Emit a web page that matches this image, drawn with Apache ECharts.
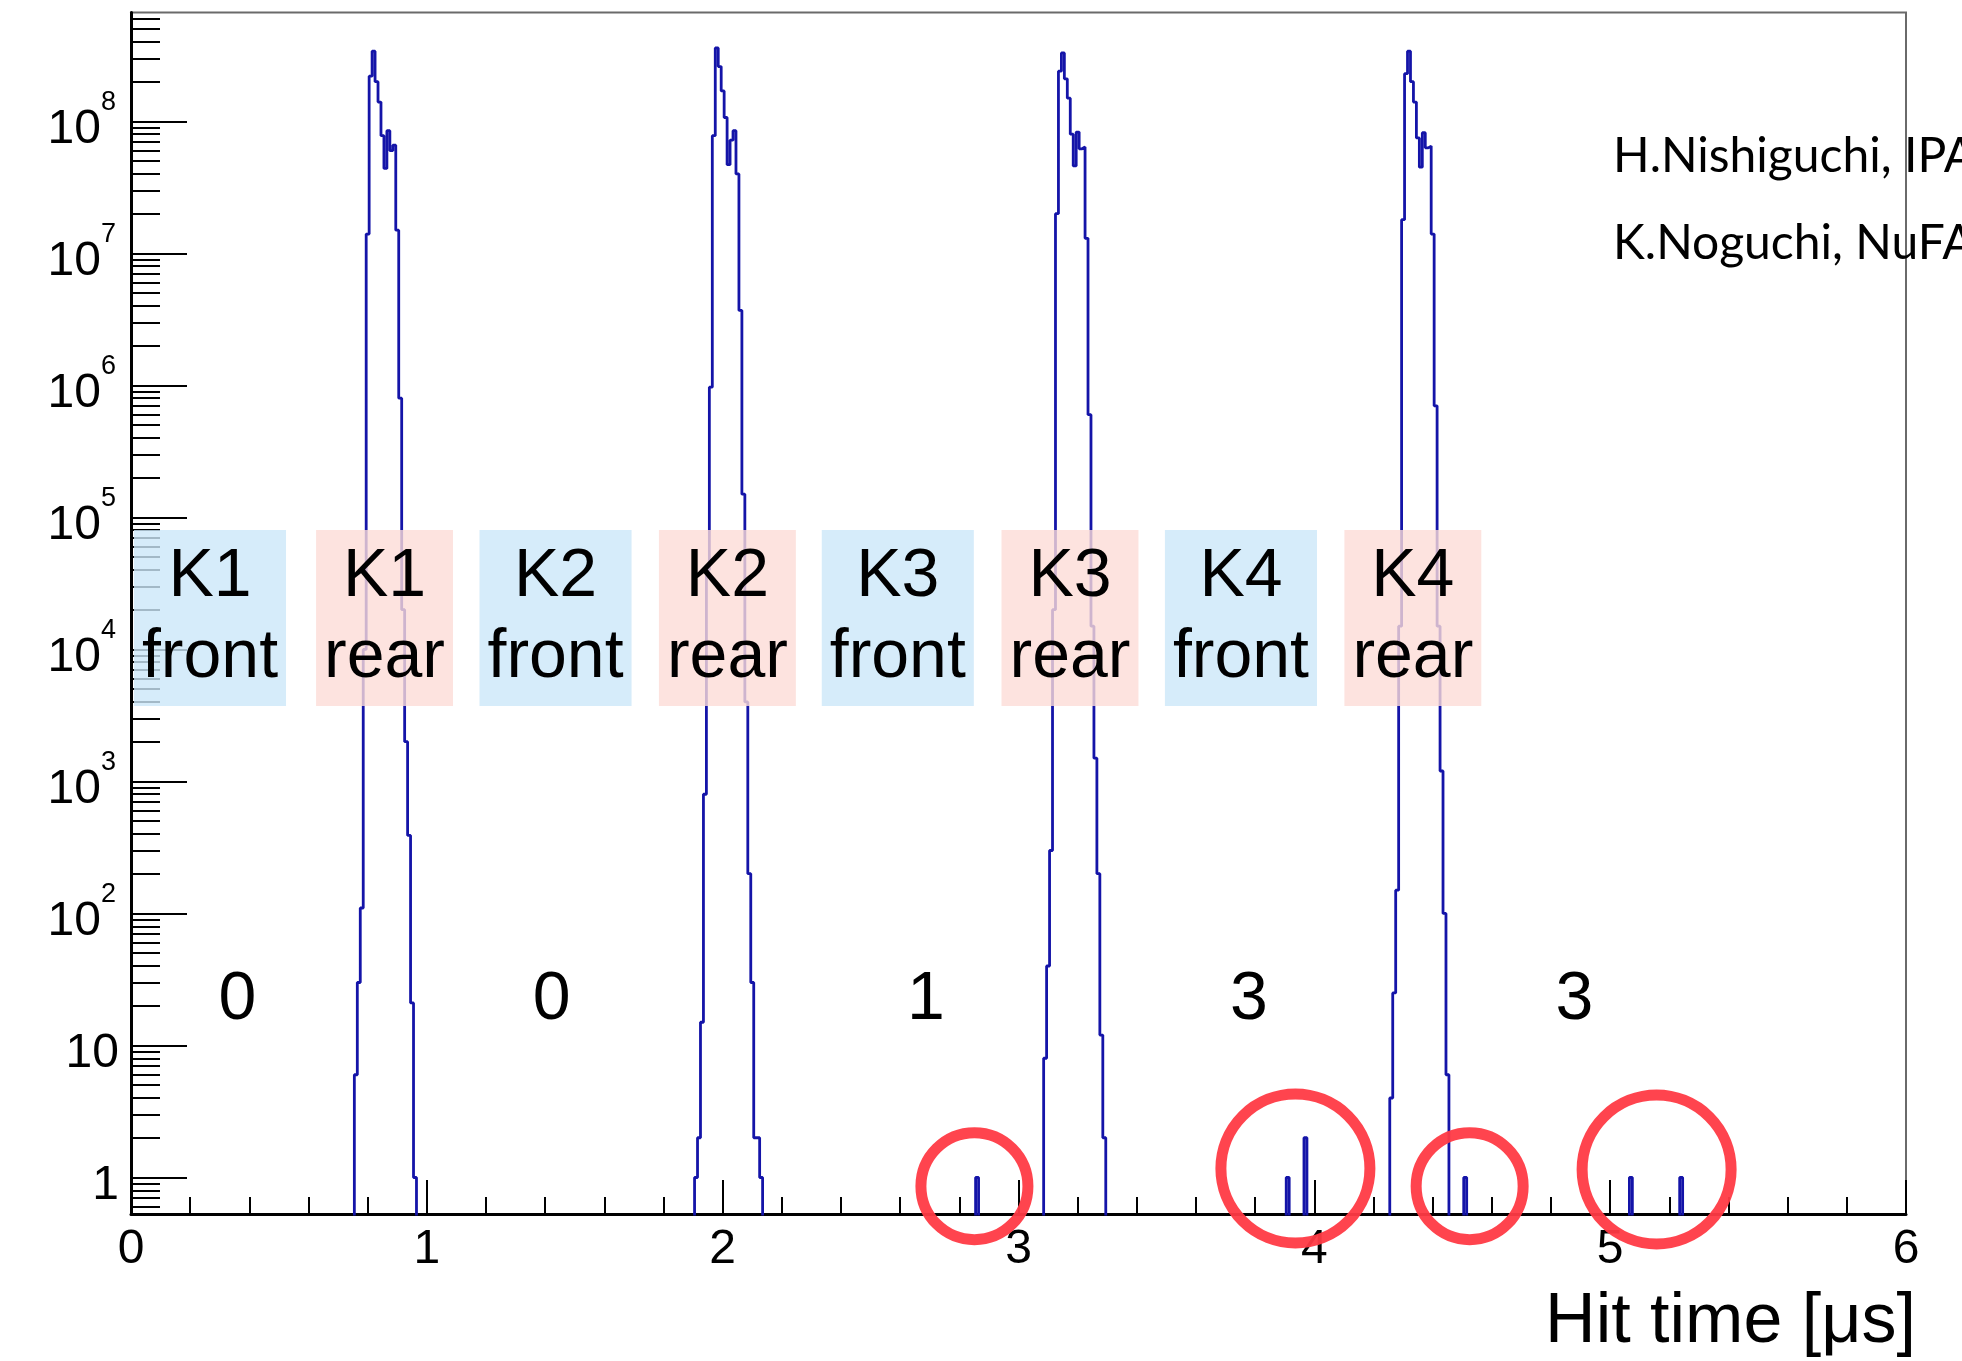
<!DOCTYPE html>
<html><head><meta charset="utf-8">
<script src="https://cdn.jsdelivr.net/npm/echarts@6/dist/echarts.min.js"></script>
<style>html,body{margin:0;padding:0;background:#fff}#c{width:1962px;height:1361px}</style>
</head><body><div id="c"></div>
<script>
// ---------------- data ----------------
const BIN_WIDTH = 0.01;            // 10 ns bins [us]
const FIRST_EDGE = 0.005;          // low edge of first bin [us]
const NBINS = 600;
// low edge of the first non-empty bin of each bunch, and counts per bin
const bunchNames = ['K1', 'K2', 'K3', 'K4'];
const bunchStart = [0.755, 1.905, 3.085, 4.255];
const k1Counts = [6, 30, 110, 1.0e4, 1.4e7, 2.2e8, 3.4e8, 2.0e8, 1.4e8, 7.8e7, 4.4e7, 8.5e7, 6.0e7, 6.6e7, 1.5e7, 8e5, 2e4, 2000, 390, 21, 1];
const k2Counts = [1, 2, 15, 800, 4e4, 9.7e5, 7.8e7, 3.6e8, 2.6e8, 1.7e8, 1.07e8, 4.7e7, 7.2e7, 8.5e7, 4.0e7, 3.7e6, 1.5e5, 4000, 200, 30, 2, 2, 1];
const k3Counts = [8, 40, 300, 2e4, 2.0e7, 2.4e8, 3.3e8, 2.1e8, 1.5e8, 8.0e7, 4.6e7, 8.3e7, 6.2e7, 6.4e7, 1.3e7, 6e5, 1.5e4, 1500, 200, 12, 2];
const k4Counts = [4, 25, 150, 1.5e4, 1.8e7, 2.3e8, 3.4e8, 2.0e8, 1.4e8, 7.5e7, 4.5e7, 8.2e7, 6.3e7, 6.5e7, 1.4e7, 7e5, 1.5e4, 1200, 100, 6];
const bunchCounts = [k1Counts, k2Counts, k3Counts, k4Counts];
// isolated hits between bunches (bin low edge, counts)
const strayHitTimes = [2.855, 3.905, 3.965, 4.505, 5.065, 5.235];
const strayHitCounts = [1, 1, 2, 1, 1, 1];

// axis ticks
const xTickLabels = ['0', '1', '2', '3', '4', '5', '6'];
const yMajorValues = [1, 10, 1e2, 1e3, 1e4, 1e5, 1e6, 1e7, 1e8];
const yMin = 0.529, yMax = 6.68e8;

// annotations
const sideLabels = ['K1\nfront', 'K1\nrear', 'K2\nfront', 'K2\nrear', 'K3\nfront', 'K3\nrear', 'K4\nfront', 'K4\nrear'];
const sideLabelTimes = [0.267, 0.857, 1.435, 2.016, 2.592, 3.174, 3.752, 4.333];
const sideLabelLevel = 1.73e4;
const gapCountLabels = ['0', '0', '1', '3', '3'];
const gapCountTimes = [0.360, 1.422, 2.687, 3.779, 4.879];
const gapCountLevel = 22;
const circleTimes = [2.851, 3.936, 4.525, 5.157];
const circleLevels = [0.86, 1.17, 0.86, 1.15];
const authorLines = ['H.Nishiguchi, IPAC', 'K.Noguchi, NuFACT'];
const xTitle = 'Hit time [\u03bcs]';

// ---------------- build histogram outline ----------------
const FLOOR = 0.05;
const counts = new Array(NBINS).fill(0);
function addBins(start, arr) {
  const i0 = Math.round((start - FIRST_EDGE) / BIN_WIDTH);
  arr.forEach((c, k) => { counts[i0 + k] += c; });
}
bunchStart.forEach((s, b) => addBins(s, bunchCounts[b]));
strayHitTimes.forEach((t, k) => addBins(t, [strayHitCounts[k]]));
const histPoints = [];
for (let i = 0; i < NBINS; i++) {
  histPoints.push([+(FIRST_EDGE + i * BIN_WIDTH).toFixed(4), counts[i] > 0 ? counts[i] : FLOOR]);
}
histPoints.push([+(FIRST_EDGE + NBINS * BIN_WIDTH).toFixed(4), FLOOR]);

const yMinorValues = [];
for (let e = -1; e <= 8; e++) {
  for (let m = 2; m <= 9; m++) {
    const v = m * Math.pow(10, e);
    if (v > yMin && v < yMax) yMinorValues.push(+v.toPrecision(3));
  }
}

const FONT = '"Liberation Sans", Arial, Helvetica, sans-serif';
const chart = echarts.init(document.getElementById('c'), null, { renderer: 'canvas' });
const option = {
  animation: false,
  backgroundColor: '#fff',
  grid: { left: 131, right: 56, top: 12.5, bottom: 147, show: true, borderColor: '#6a6a6a', borderWidth: 2, backgroundColor: 'transparent', containLabel: false },
  xAxis: {
    type: 'value', min: 0, max: 6, interval: 1,
    axisLine: { show: true, onZero: false, lineStyle: { color: '#000', width: 3 } },
    axisTick: { show: true, inside: true, length: 34, lineStyle: { color: '#000', width: 2 } },
    minorTick: { show: true, splitNumber: 5, length: 17, lineStyle: { color: '#000', width: 2 } },
    axisLabel: { fontSize: 48, color: '#000', fontFamily: FONT, margin: 12, formatter: v => xTickLabels[Math.round(v)] },
    splitLine: { show: false }, minorSplitLine: { show: false },
    name: xTitle, nameLocation: 'end', nameGap: 10,
    nameTextStyle: { fontSize: 70, color: '#000', fontFamily: FONT, align: 'right', verticalAlign: 'top', padding: [74, 0, 0, 0] }
  },
  yAxis: [{
    type: 'log', logBase: 10, min: yMin, max: yMax, position: 'left',
    axisLine: { show: true, onZero: false, lineStyle: { color: '#000', width: 3 } },
    axisTick: { show: true, inside: true, length: 56, customValues: yMajorValues, lineStyle: { color: '#000', width: 2 } },
    axisLabel: {
      customValues: yMajorValues, margin: 12, color: '#000',
      formatter: function (v) {
        const e = Math.round(Math.log10(v));
        if (e === 0) return '{b|1}';
        if (e === 1) return '{b|10}';
        return '{b|10}{e|' + e + '}{s| }';
      },
      rich: {
        b: { fontSize: 48, lineHeight: 64, verticalAlign: 'bottom', fontFamily: FONT, color: '#000' },
        e: { fontSize: 27, lineHeight: 27, verticalAlign: 'top', fontFamily: FONT, color: '#000' },
        s: { fontSize: 6, width: 3 }
      }
    },
    splitLine: { show: false }
  }, {
    type: 'log', logBase: 10, min: yMin, max: yMax, position: 'left',
    axisLine: { show: false },
    axisTick: { show: true, inside: true, length: 29, customValues: yMinorValues, lineStyle: { color: '#000', width: 2 } },
    axisLabel: { show: false },
    splitLine: { show: false }
  }],
  series: [{
    name: 'hits', type: 'line', data: histPoints, step: 'end', showSymbol: false, symbol: 'none',
    lineStyle: { color: '#1414a8', width: 2.8 }, clip: true, z: 3, silent: true
  }, {
    name: 'bunch sides', type: 'scatter', symbolSize: 1, clip: false, z: 5, silent: true,
    itemStyle: { color: 'rgba(0,0,0,0)', opacity: 1 },
    data: sideLabels.map((t, i) => ({
      value: [sideLabelTimes[i], sideLabelLevel],
      label: { backgroundColor: i % 2 === 0 ? 'rgba(204,231,249,0.8)' : 'rgba(252,220,215,0.8)' }
    })),
    label: { show: true, position: 'inside', formatter: p => sideLabels[p.dataIndex], fontSize: 68, lineHeight: 81, color: '#000', opacity: 1, fontFamily: FONT, padding: [7, 8, 7, 8], align: 'center' }
  }, {
    name: 'gap counts', type: 'scatter', symbolSize: 1, clip: false, z: 5, silent: true,
    itemStyle: { color: 'rgba(0,0,0,0)', opacity: 1 },
    data: gapCountTimes.map((t, i) => [t, gapCountLevel]),
    label: { show: true, position: 'inside', formatter: p => gapCountLabels[p.dataIndex], fontSize: 68, color: '#000', opacity: 1, fontFamily: FONT }
  }, {
    name: 'circles', type: 'scatter', clip: false, z: 6, silent: true, symbol: 'circle',
    symbolSize: (v, p) => (p.dataIndex % 2 === 0 ? 107 : 149),
    itemStyle: { color: 'rgba(0,0,0,0)', borderColor: '#ff3a44', borderWidth: 11, opacity: 0.95 },
    data: circleTimes.map((t, i) => [t, circleLevels[i]])
  }],
  graphic: [
    { type: 'text', left: 1613, top: 133, z: 1, style: { text: authorLines[0], font: '48px Lato, "Open Sans", sans-serif', fill: '#000' } },
    { type: 'text', left: 1613, top: 220, z: 1, style: { text: authorLines[1], font: '48px Lato, "Open Sans", sans-serif', fill: '#000' } }
  ]
};
chart.setOption(option);
</script></body></html>
